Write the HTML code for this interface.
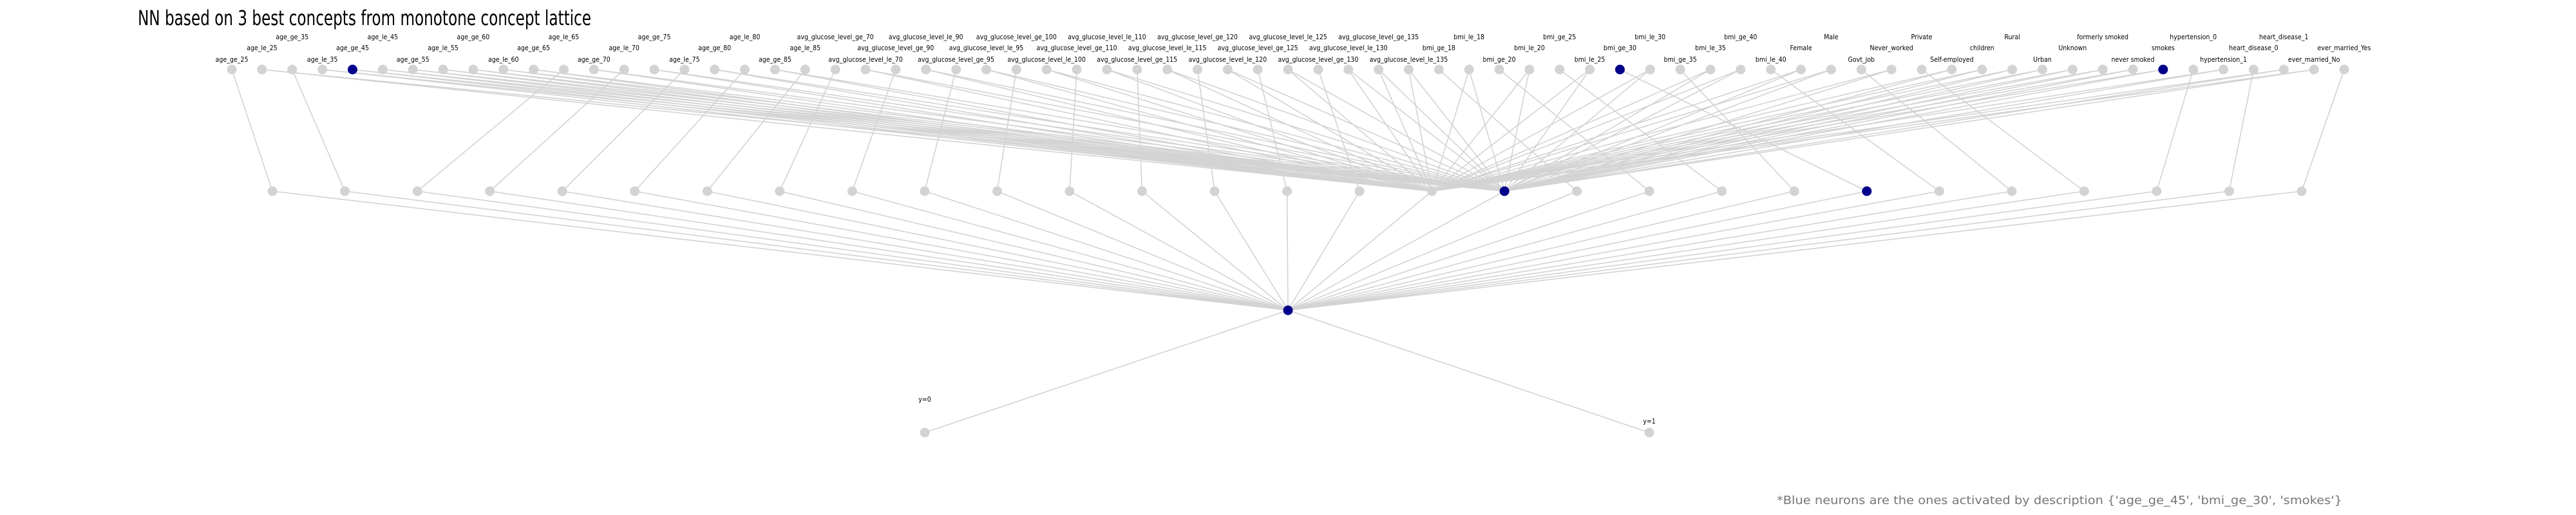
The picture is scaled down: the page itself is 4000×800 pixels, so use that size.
<!DOCTYPE html>
<html><head><meta charset="utf-8"><style>
html,body{margin:0;padding:0;background:#fff;}
svg{display:block;font-family:"DejaVu Sans","Liberation Sans",sans-serif;}
</style></head><body>
<svg id="chart" width="4000" height="800" viewBox="0 0 4000 800">
<text x="214" y="39" font-size="32" textLength="704" lengthAdjust="spacingAndGlyphs" fill="#000">NN based on 3 best concepts from monotone concept lattice</text>
<g id="edges"></g>
<g id="nodes"></g>
<text x="3637" y="783" font-size="18" text-anchor="end" textLength="878" lengthAdjust="spacingAndGlyphs" fill="#777">*Blue neurons are the ones activated by description {'age_ge_45', 'bmi_ge_30', 'smokes'}</text>
</svg>
<script>
const topLabels = ["age_ge_25","age_le_25","age_ge_35","age_le_35","age_ge_45","age_le_45","age_ge_55","age_le_55","age_ge_60","age_le_60","age_ge_65","age_le_65","age_ge_70","age_le_70","age_ge_75","age_le_75","age_ge_80","age_le_80","age_ge_85","age_le_85",
"avg_glucose_level_ge_70","avg_glucose_level_le_70","avg_glucose_level_ge_90","avg_glucose_level_le_90","avg_glucose_level_ge_95","avg_glucose_level_le_95","avg_glucose_level_ge_100","avg_glucose_level_le_100","avg_glucose_level_ge_110","avg_glucose_level_le_110","avg_glucose_level_ge_115","avg_glucose_level_le_115","avg_glucose_level_ge_120","avg_glucose_level_le_120","avg_glucose_level_ge_125","avg_glucose_level_le_125","avg_glucose_level_ge_130","avg_glucose_level_le_130","avg_glucose_level_ge_135","avg_glucose_level_le_135",
"bmi_ge_18","bmi_le_18","bmi_ge_20","bmi_le_20","bmi_ge_25","bmi_le_25","bmi_ge_30","bmi_le_30","bmi_ge_35","bmi_le_35","bmi_ge_40","bmi_le_40",
"Female","Male","Govt_job","Never_worked","Private","Self-employed","children","Rural","Urban","Unknown","formerly smoked","never smoked","smokes","hypertension_0","hypertension_1","heart_disease_0","heart_disease_1","ever_married_No","ever_married_Yes"];
const activeTop = [4, 46, 64];
const middleCount = 29;
const activeMiddle = [17, 22];
const centerActive = true;
const middleParents = [0,2,11,13,15,17,19,20,22,24,26,28,30,32,34,36,-1,-1,40,42,44,48,46,51,54,56,65,67,70];
const fanTargets = [16, 17];
const outputLabels = ["y=0","y=1"];

const NS = "http://www.w3.org/2000/svg";
const edgesG = document.getElementById("edges");
const nodesG = document.getElementById("nodes");
function topX(i){ return 360 + i * (3280 / (topLabels.length - 1)); }
function midX(j){ return 423 + j * (3151 / (middleCount - 1)); }
const TOPY = 108, MIDY = 297, CX = 2000, CY = 482, OUTY = 672;
function outX(k){ return k === 0 ? 1436 : 2561; }

function line(x1,y1,x2,y2){
  const l = document.createElementNS(NS,"line");
  l.setAttribute("x1",x1);l.setAttribute("y1",y1);l.setAttribute("x2",x2);l.setAttribute("y2",y2);
  l.setAttribute("stroke","#d3d3d3");l.setAttribute("stroke-width","1.6");
  
  
  edgesG.appendChild(l);
}
function node(x,y,blue){
  const c = document.createElementNS(NS,"circle");
  c.setAttribute("cx",x);c.setAttribute("cy",y);c.setAttribute("r","7.5");
  c.setAttribute("fill", blue ? "#00008b" : "#d3d3d3");
  
  
  nodesG.appendChild(c);
}
function label(x,y,txt){
  const t = document.createElementNS(NS,"text");
  t.setAttribute("x",0);t.setAttribute("y",0);
  t.setAttribute("transform","translate("+x+","+y+") scale(0.86,1)");
  t.setAttribute("text-anchor","middle");t.setAttribute("font-size","11");t.setAttribute("fill","#000");
  t.textContent = txt;
  
  
  nodesG.appendChild(t);
}
const singles = new Set(middleParents.filter(p => p >= 0));
middleParents.forEach((p,j) => { if (p >= 0) line(topX(p),TOPY,midX(j),MIDY); });
topLabels.forEach((_,i) => {
  if (singles.has(i)) return;
  fanTargets.forEach(j => line(topX(i),TOPY,midX(j),MIDY));
});
for (let j=0;j<middleCount;j++) line(midX(j),MIDY,CX,CY);
outputLabels.forEach((_,k) => line(CX,CY,outX(k),OUTY));
topLabels.forEach((lab,i) => {
  node(topX(i),TOPY,activeTop.includes(i));
  const rowY = [96,78,61][i%3];
  label(topX(i),rowY,lab);
});
for (let j=0;j<middleCount;j++) node(midX(j),MIDY,activeMiddle.includes(j));
node(CX,CY,centerActive);
outputLabels.forEach((lab,k) => {
  node(outX(k),OUTY,false);
  label(outX(k), k===0 ? 624 : 658, lab);
});
</script>
</body></html>
